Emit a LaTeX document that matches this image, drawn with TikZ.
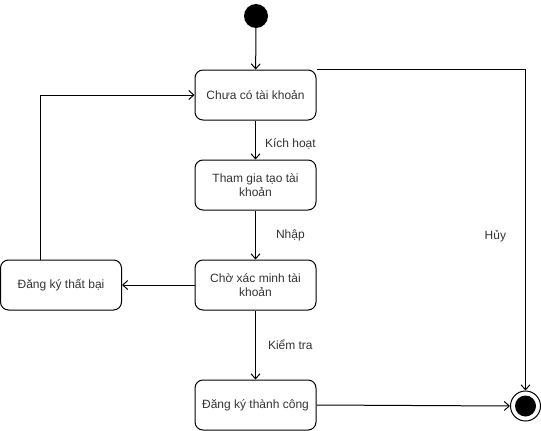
\documentclass[tikz,border=0pt]{standalone}
\usepackage{fontspec}
\setmainfont{Liberation Sans}
\usetikzlibrary{arrows.meta}
\begin{document}
\begin{tikzpicture}[x=1pt,y=1pt,
  state/.style={draw=black, line width=1pt, rounded corners=8pt, minimum width=121pt, minimum height=50pt, align=center, font=\fontsize{12}{14}\selectfont, text=black!80, inner sep=0pt},
  conn/.style={draw=black, line width=1pt, -{Straight Barb[length=5pt,width=9pt]}},
  lbl/.style={font=\fontsize{12}{14}\selectfont, text=black!80, inner sep=0pt}]
\useasboundingbox (0,0) rectangle (541,-431);
\node[circle, fill=black, minimum size=24pt, inner sep=0pt] (init) at (256,-16) {};
\node[state] (b1) at (255.5,-95) {Chưa có tài khoản};
\node[state] (b2) at (255.5,-185) {Tham gia tạo tài\\khoản};
\node[state] (b3) at (255.5,-285) {Chờ xác minh tài\\khoản};
\node[state] (fail) at (61,-285) {Đăng ký thất bại};
\node[state] (succ) at (255.5,-405) {Đăng ký thành công};
\node[circle, draw=black, line width=1pt, minimum size=30pt, inner sep=0pt] (final) at (525.5,-406) {};
\node[circle, fill=black, minimum size=21pt, inner sep=0pt] (finalin) at (final.center) {};
\draw[conn] (init) -- (b1);
\draw[conn] (b1) -- node[lbl, right=9pt, pos=0.6] (l1) {Kích hoạt} (b2);
\draw[conn] (b2) -- node[lbl, right=20pt, pos=0.5] (l2) {Nhập} (b3);
\draw[conn] (b3) -- node[lbl, right=12pt, pos=0.5] (l3) {Kiểm tra} (succ);
\draw[conn] (b3) -- (fail);
\draw[conn] ([xshift=-21pt]fail.north) |- (b1.west);
\draw[conn] (succ.east) -- (final.west);
\draw[conn] (b1.north east) -| node[lbl, pos=0.76, left=19pt] (l4) {Hủy} (final.north);
\end{tikzpicture}
\end{document}
